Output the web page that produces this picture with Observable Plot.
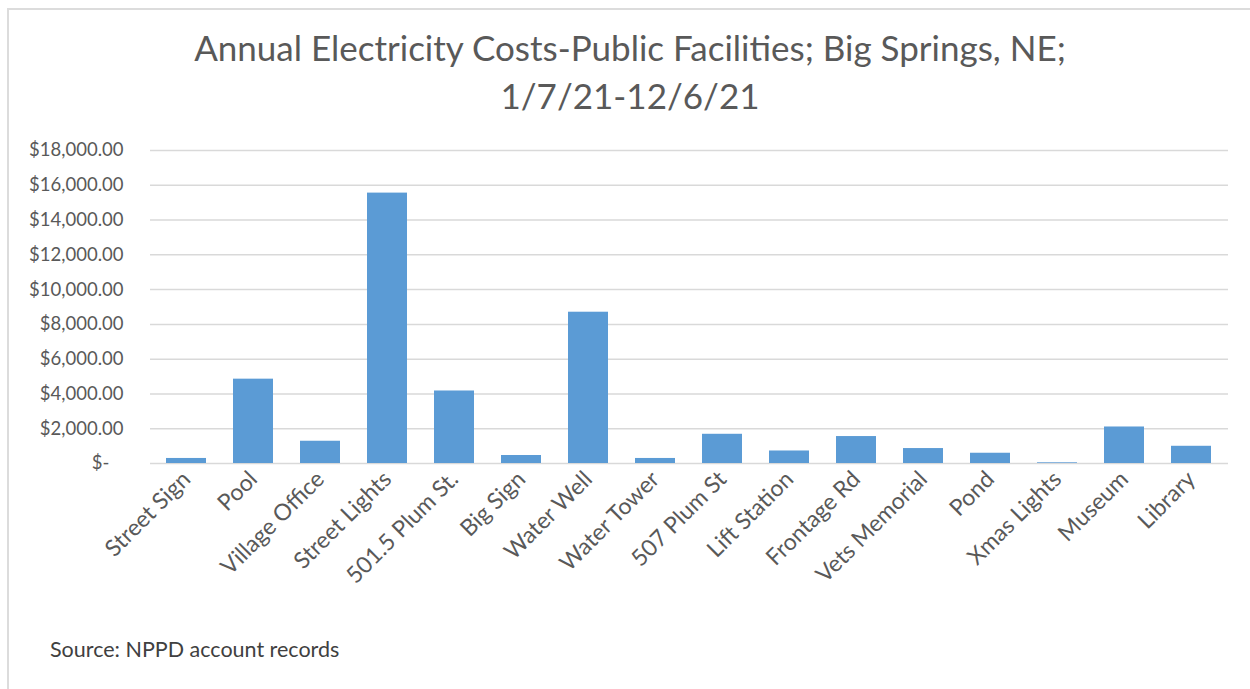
<!DOCTYPE html>
<html>
<head>
<meta charset="utf-8">
<script src="https://cdn.jsdelivr.net/npm/d3@7"></script>
<script src="https://cdn.jsdelivr.net/npm/@observablehq/plot@0.6"></script>
<style>
  html, body { margin: 0; padding: 0; background: #fff; overflow: hidden; }
  #page { position: relative; width: 1250px; height: 689px; overflow: hidden; font-family: Lato, "Open Sans", sans-serif; }
  #frame { position: absolute; left: 7px; top: 8px; width: 1300px; height: 720px; border: 2px solid #dcdcdc; box-sizing: border-box; }
  #title { position: absolute; left: 0; width: 1260px; top: 23px; text-align: center; font-size: 35px; line-height: 48px; color: #595959; }
  #chart { position: absolute; left: 0; top: 130px; }
  #caption { position: absolute; left: 50px; top: 636px; font-size: 21.5px; color: #404040; }
</style>
</head>
<body>
<div id="page">
  <div id="frame"></div>
  <div id="title">Annual Electricity Costs-Public Facilities; Big Springs, NE;<br>1/7/21-12/6/21</div>
  <div id="chart"></div>
  <div id="caption">Source: NPPD account records</div>
</div>
<script>
const facilities = ["Street Sign", "Pool", "Village Office", "Street Lights", "501.5 Plum St.", "Big Sign", "Water Well", "Water Tower", "507 Plum St", "Lift Station", "Frontage Rd", "Vets Memorial", "Pond", "Xmas Lights", "Museum", "Library"];
const costs = [290, 4850, 1280, 15550, 4170, 460, 8700, 290, 1680, 720, 1550, 860, 590, 40, 2100, 990];
const yTicks = [0, 2000, 4000, 6000, 8000, 10000, 12000, 14000, 16000, 18000];

const data = facilities.map((name, i) => ({name, cost: costs[i]}));
const money = d3.format(",.2f");

const chart = Plot.plot({
  width: 1250,
  height: 500,
  marginTop: 20,
  marginBottom: 167,
  marginLeft: 150,
  marginRight: 22,
  style: {fontFamily: "Lato, 'Open Sans', sans-serif", color: "#595959", background: "transparent"},
  x: {domain: facilities, paddingInner: 0.4, paddingOuter: 0.2, label: null},
  y: {domain: [0, 18000], label: null},
  marks: [
    Plot.ruleY(yTicks, {stroke: "#d9d9d9", strokeWidth: 1.5}),
    Plot.barY(data, {x: "name", y: "cost", fill: "#5b9bd5"}),
    Plot.axisY(yTicks, {
      tickSize: 0, tickPadding: 27, fontSize: 18.5, fill: "#595959",
      tickFormat: d => d === 0 ? "$-   " : "$" + money(d)
    }),
    Plot.axisX({
      tickSize: 0, tickPadding: 12, tickRotate: -45, fontSize: 23, fill: "#595959"
    })
  ]
});
document.getElementById("chart").appendChild(chart);
</script>
</body>
</html>
